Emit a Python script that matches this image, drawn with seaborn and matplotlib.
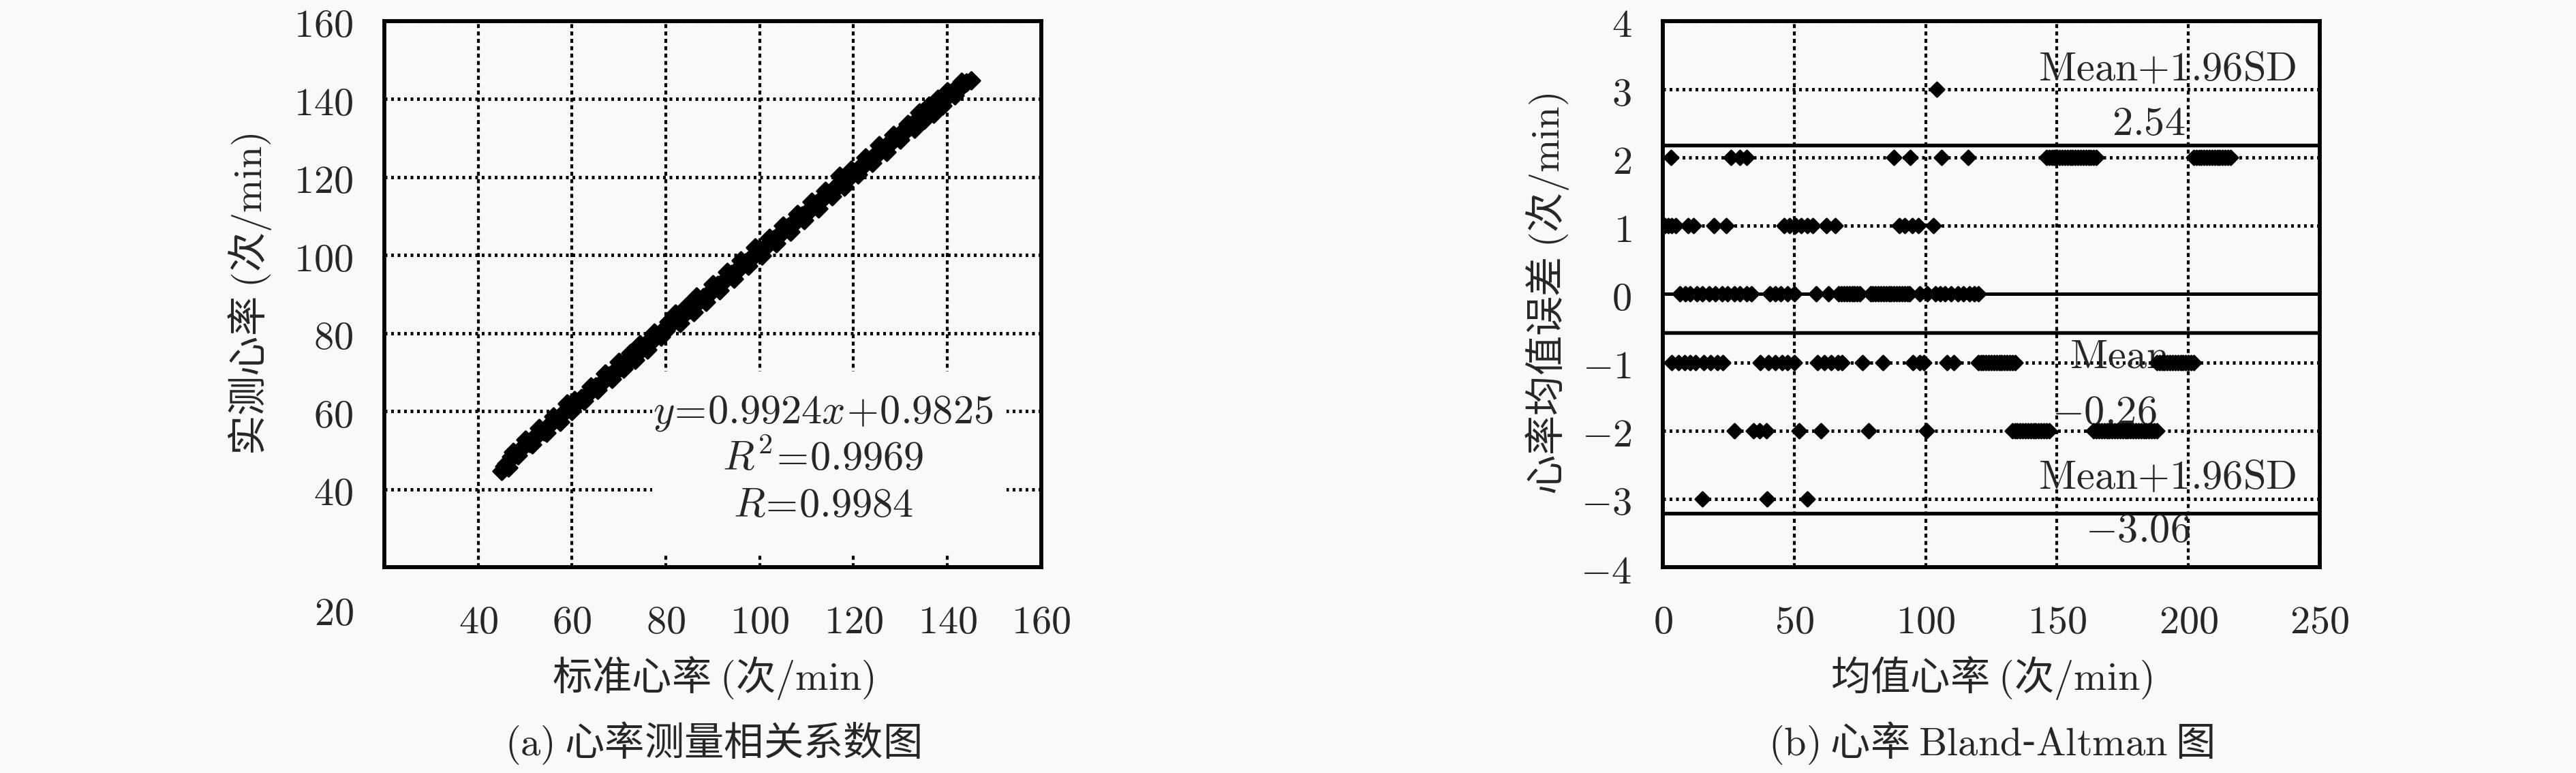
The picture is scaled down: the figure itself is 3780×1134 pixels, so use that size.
import numpy as np
import pandas as pd
import matplotlib
matplotlib.use("Agg")
import matplotlib.pyplot as plt
import seaborn as sns
from matplotlib.patches import Rectangle

# ---------------- data: (a) correlation plot ----------------
main_pts = [
    (45, 44.6), (46, 46.5), (47, 48.3), (48, 49.0), (49, 50.2), (50, 51.4), (51, 51.8), (52, 53.3), (53, 54.2), (54, 54.7),
    (55, 56.3), (56, 57.4), (57, 57.9), (58, 59.5), (59, 60.3), (60, 61.6), (61, 61.9), (62, 63.4), (63, 63.8), (64, 65.2),
    (65, 66.4), (66, 66.8), (67, 68.3), (68, 69.1), (69, 69.7), (70, 71.4), (71, 72.3), (72, 72.7), (73, 74.4), (74, 74.8),
    (75, 76.2), (76, 77.6), (77, 77.9), (78, 79.4), (79, 80.3), (80, 80.7), (81, 82.2), (82, 83.4), (83, 83.8), (84, 85.3),
    (85, 86.1), (86, 86.7), (87, 88.5), (88, 89.2), (89, 89.8), (90, 91.3), (91, 92.4), (92, 92.8), (93, 94.2), (94, 95.1),
    (95, 95.7), (96, 97.3), (97, 98.2), (98, 98.8), (99, 100.4), (100, 101.3), (101, 101.8), (102, 103.2), (103, 104.1), (104, 104.7),
    (105, 106.3), (106, 107.2), (107, 107.8), (108, 109.4), (109, 110.1), (110, 110.7), (111, 112.3), (112, 113.2), (113, 113.8), (114, 115.4),
    (115, 116.1), (116, 116.8), (117, 118.6), (118, 119.4), (119, 119.8), (120, 121.2), (121, 122.1), (122, 122.8), (123, 124.3), (124, 125.0),
    (125, 125.7), (126, 127.3), (127, 128.2), (128, 128.8), (129, 130.2), (130, 131.1), (131, 131.7), (132, 133.2), (133, 134.1), (134, 134.6),
    (135, 136.1), (136, 137.0), (137, 137.6), (138, 139.2), (139, 140.0), (140, 140.6), (141, 141.8), (142, 142.6), (143, 143.3), (144, 144.2),
    (145, 144.8),
]
extra_pts = [
    (45.5, 45.9), (46.5, 45.6), (47.5, 49.6), (48.5, 48.6), (50, 52.6), (51.5, 51.5), (53, 55.6), (54.5, 54.4), (56, 58.6), (57.5, 57.3),
    (59, 61.9), (60, 60.1), (60.5, 62.8), (62.5, 62.6), (64, 66.4), (65.5, 65.4), (67, 69.6), (68.5, 68.3), (70, 72.6), (71, 70.9),
    (72.5, 74.9), (73.5, 73.1), (74.5, 77.2), (76, 75.8), (77.5, 80.2), (79, 79.0), (80.5, 83.0), (82, 85.1), (83, 82.6), (84.5, 86.9),
    (86, 85.3), (86.5, 89.4), (88.5, 88.0), (90, 92.6), (91.5, 91.0), (93, 95.6), (94.5, 94.0), (96, 98.6), (97.5, 97.2), (99, 101.9),
    (100.5, 99.9), (102, 104.5), (103.5, 103.0), (105, 107.6), (106.5, 106.0), (108, 110.6), (109.5, 109.0), (111, 113.6), (112.5, 112.0), (114, 116.5),
    (115.5, 115.0), (117, 120.3), (118, 117.6), (119.5, 121.9), (121, 120.6), (122.5, 125.0), (124, 123.6), (125.5, 128.1), (127, 126.4), (128.5, 130.8),
    (130, 129.6), (131.5, 133.6), (133, 132.4), (134, 136.6), (135, 134.6), (136, 138.4), (137, 136.3), (138, 140.0), (139, 138.4), (140, 142.0),
    (141.5, 141.0), (143, 144.5),
]
corr_ticks = [40, 60, 80, 100, 120, 140, 160]
fit_lines = [r"$y\!=\!0.9924x\!+\!0.9825$", r"$R^2\!=\!0.9969$", r"$R\!=\!0.9984$"]

# ---------------- data: (b) Bland-Altman plot ----------------
ba_x_p3 = [104.2]
ba_x_p2 = [3.0, 25.9, 29.4, 32.0, 87.9, 94.2, 106.1, 116.2,
           146, 147, 148, 149, 150, 151, 152, 153, 154, 155, 156, 157, 158, 159, 160, 161, 162, 163, 164, 165,
           202, 203, 204, 205, 206, 207, 208, 209, 210, 211, 212, 213, 214, 215, 216]
ba_x_p1 = [0.8, 2.0, 3.5, 5.0, 9.6, 11.7, 19.4, 24.2, 46.2, 48.3, 50.5, 52.7, 54.9, 57.0, 62.2, 65.7,
           89.9, 92.0, 95.0, 97.2, 103.0]
ba_x_0 = [6.5, 8.6, 10.4, 13.0, 15.1, 17.6, 19.9, 22.5, 24.6, 27.2, 29.3, 31.9, 33.7,
          40.6, 42.8, 44.9, 47.5, 50.1, 58.4, 63.1,
          67, 68, 69, 70, 71, 72, 73, 74, 75,
          79, 80, 81, 82, 83, 84, 85, 86, 87, 88, 89, 90, 91, 92, 93, 94,
          97.8, 100.6, 103.7, 105.5, 107.5, 109.7, 112.3, 114.5, 116.8, 118.5, 120.1]
ba_x_m1 = [3.4, 6.0, 8.3, 10.4, 12.4, 15.6, 18.2, 20.7, 22.8, 37.1, 40.2, 42.8, 45.4, 47.5, 50.1,
           58.9, 61.5, 64.1, 66.6, 68.3, 76.0, 83.8, 95.2, 97.8, 99.3, 108.1, 110.7,
           120, 121, 122, 123, 124, 125, 126, 127, 128, 129, 130, 131, 132, 133, 134,
           188, 189, 190, 191, 192, 193, 194, 195, 196, 197, 198, 199, 200, 201, 202]
ba_x_m2 = [27.2, 34.5, 36.8, 39.4, 51.9, 60.2, 78.3, 100.4,
           133, 134, 135, 136, 137, 138, 139, 140, 141, 142, 143, 144, 145, 146, 147,
           164, 165, 166, 167, 168, 169, 170, 171, 172, 173, 174, 175, 176, 177, 178, 179, 180,
           181, 182, 183, 184, 185, 186, 187, 188]
ba_x_m3 = [15.1, 39.7, 55.0]
ba_levels = [3, 2, 1, 0, -1, -2, -3]
ba_lines_drawn = [2.18, -0.56, -3.21]          # where the solid lines sit in the picture
ba_line_texts = [
    (191.9, 3.30, r"$\mathrm{Mean{+}1.96SD}$"),
    (184.9, 2.50, r"$2.54$"),
    (173.8, -0.91, r"$\mathrm{Mean}$"),
    (168.0, -1.73, r"$-0.26$"),
    (191.9, -2.68, r"$\mathrm{Mean{+}1.96SD}$"),
    (180.8, -3.46, r"$-3.06$"),
]
ba_xticks = [0, 50, 100, 150, 200, 250]
ba_yticks = [-4, -3, -2, -1, 0, 1, 2, 3, 4]

# ---------------- style ----------------
sns.set_style("white")
plt.rcParams["font.family"] = ["Noto Sans CJK SC", "DejaVu Sans"]
plt.rcParams["mathtext.fontset"] = "cm"
BG = "#f9f9f9"
FS = 14
LFS = 14.5

fig = plt.figure(figsize=(12.6, 3.78), dpi=300, facecolor=BG)
axL = fig.add_axes([0.1492, 0.2663, 0.2550, 0.7064])
axR = fig.add_axes([0.6455, 0.2663, 0.2550, 0.7064])

def style_axes(ax):
    ax.set_facecolor(BG)
    for s in ax.spines.values():
        s.set_visible(True)
        s.set_color("black")
        s.set_linewidth(1.4)
    ax.set_axisbelow(True)
    ax.xaxis.grid(True, linestyle=(0, (1.4, 1.2)), linewidth=1.0, color="black")
    ax.yaxis.grid(True, linestyle=(0, (0.8, 1.1)), linewidth=1.2, color="black")
    ax.tick_params(axis="both", length=0, labelsize=FS)

# ---------------- (a) ----------------
corr_df = pd.DataFrame(main_pts + extra_pts, columns=["std", "meas"])
sns.scatterplot(data=corr_df, x="std", y="meas", ax=axL, marker="D", s=18,
                color="black", edgecolor="black", linewidth=0.8, zorder=3)
axL.set_xlim(20, 160)
axL.set_ylim(20, 160)
style_axes(axL)
axL.set_xticks(corr_ticks)
axL.set_xticklabels([f"${v}$" for v in corr_ticks])
axL.set_yticks(corr_ticks)
axL.set_yticklabels([f"${v}$" for v in corr_ticks])
axL.tick_params(axis="x", pad=12)
axL.tick_params(axis="y", pad=11)
axL.add_patch(Rectangle((77.1, 23.0), 75.5, 47.2, facecolor=BG, edgecolor="none", zorder=1))
for yv, t in zip([59.9, 47.8, 35.9], fit_lines):
    axL.text(113.5, yv, t, ha="center", va="center", fontsize=LFS, zorder=4)
fig.text(519 / 3780, 1 - 901 / 1134, r"$20$", ha="right", va="center", fontsize=FS)
axL.set_xlabel(r"标准心率 $($次$/\mathrm{min})$", fontsize=14)
axL.set_ylabel(r"实测心率 $($次$/\mathrm{min})$", fontsize=14)
axL.xaxis.set_label_coords(0.5, -0.16)
axL.yaxis.set_label_coords(-0.205, 0.5)
axL.yaxis.label.set_va("center")
axL.xaxis.label.set_va("top")

# ---------------- (b) ----------------
ba_lists = [ba_x_p3, ba_x_p2, ba_x_p1, ba_x_0, ba_x_m1, ba_x_m2, ba_x_m3]
ba_rows = []
for lvl, xs in zip(ba_levels, ba_lists):
    for xv in xs:
        ba_rows.append((xv, lvl))
ba_df = pd.DataFrame(ba_rows, columns=["mean_hr", "diff"])
sns.scatterplot(data=ba_df, x="mean_hr", y="diff", ax=axR, marker="D", s=13,
                color="black", edgecolor="black", linewidth=0.7, zorder=3)
axR.set_xlim(0, 250)
axR.set_ylim(-4, 4)
style_axes(axR)
axR.set_xticks(ba_xticks)
axR.set_xticklabels([f"${v}$" for v in ba_xticks])
axR.set_yticks(ba_yticks)
axR.set_yticklabels([f"${v}$" for v in ba_yticks])
axR.tick_params(axis="x", pad=12)
axR.tick_params(axis="y", pad=11)
axR.axhline(0, color="black", lw=1.2, zorder=2)
for yv in ba_lines_drawn:
    axR.axhline(yv, color="black", lw=1.3, zorder=2)
for xv, yv, t in ba_line_texts:
    axR.text(xv, yv, t, ha="center", va="center", fontsize=LFS, zorder=2.5)
axR.set_xlabel(r"均值心率 $($次$/\mathrm{min})$", fontsize=14)
axR.set_ylabel(r"心率均值误差 $($次$/\mathrm{min})$", fontsize=14)
axR.xaxis.set_label_coords(0.5, -0.16)
axR.yaxis.set_label_coords(-0.176, 0.5)
axR.yaxis.label.set_va("center")
axR.xaxis.label.set_va("top")

# ---------------- captions ----------------
fig.text(1046 / 3780, 1 - 1090 / 1134, r"$(\mathrm{a})$ 心率测量相关系数图", ha="center", va="center", fontsize=14)
fig.text(2922 / 3780, 1 - 1090 / 1134, r"$(\mathrm{b})$ 心率 $\mathrm{Bland}$-$\mathrm{Altman}$ 图",
         ha="center", va="center", fontsize=14)

fig.savefig("out.png", dpi=300, facecolor=BG)
